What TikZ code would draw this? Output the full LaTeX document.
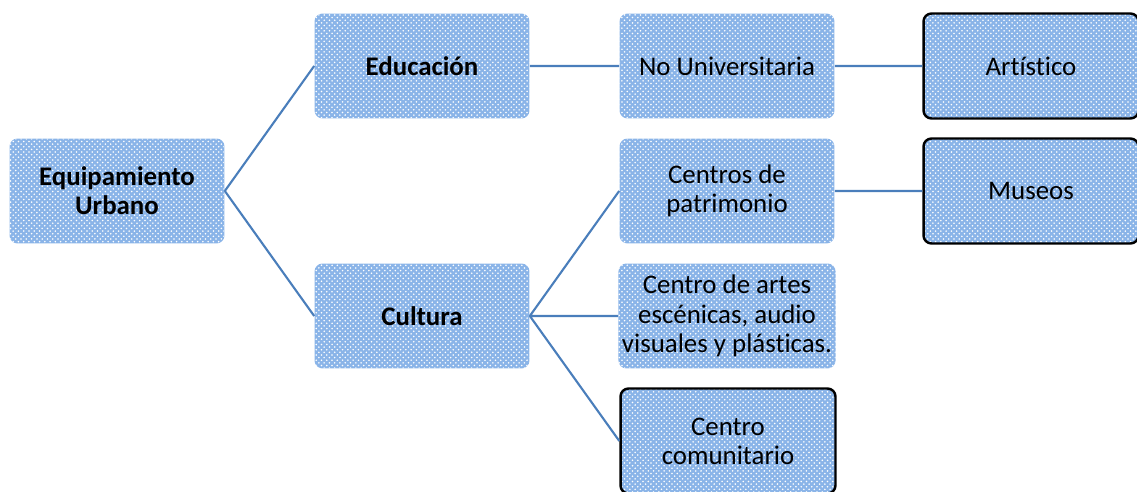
\documentclass[tikz,border=0pt]{standalone}
\usepackage{fontspec}
\setmainfont{Carlito}[Ligatures=NoCommon]
\usepackage{tikz}
\usetikzlibrary{patterns, positioning}

\definecolor{boxblue}{RGB}{138,180,232}
\definecolor{lineblue}{RGB}{74,126,187}

\tikzset{
    cell/.style={rounded corners=0.16cm, minimum width=4.3cm, minimum height=2.1cm,
        align=center, inner sep=2pt, font=\fontsize{15.3}{16.6}\selectfont,
        preaction={fill=boxblue}, pattern=crosshatch dots, pattern color=white},
    cellframe/.style={cell, draw=black, line width=1.4pt},
    link/.style={draw=lineblue, line width=1.2pt}
}

\begin{document}
\begin{tikzpicture}[x=0.02cm, y=-0.02cm]
                        \useasboundingbox (0, 0) rectangle (1137, 492);
                        \node[cell] (eu) at (117, 191) {\textbf{Equipamiento}\\\textbf{Urbano}};
                        \node[cell] (ed) at (422, 66) {\textbf{Educación}};
                        \node[cell] (cu) at (422, 316) {\textbf{Cultura}};
                        \node[cell] (nu) at (727, 66) {No Universitaria};
                        \node[cell] (cp) at (727, 191) {Centros de\\patrimonio};
                        \node[cell] (ca) at (727, 316) {Centro de artes\\escénicas, audio\\visuales y plásticas.};
                        \node[cellframe] (cc) at (728, 441) {Centro\\comunitario};
                        \node[cellframe] (ar) at (1031, 66) {Artístico};
                        \node[cellframe] (mu) at (1031, 191) {Museos};

                        \draw[link]
                        (eu.east) -- (ed.west)
                        (eu.east) -- (cu.west)
                        (ed.east) -- (nu.west)
                        (cu.east) -- (cp.west)
                        (cu.east) -- (ca.west)
                        (cu.east) -- (cc.west)
                        (nu.east) -- (ar.west)
                        (cp.east) -- (mu.west);
                    \end{tikzpicture}
\end{document}
